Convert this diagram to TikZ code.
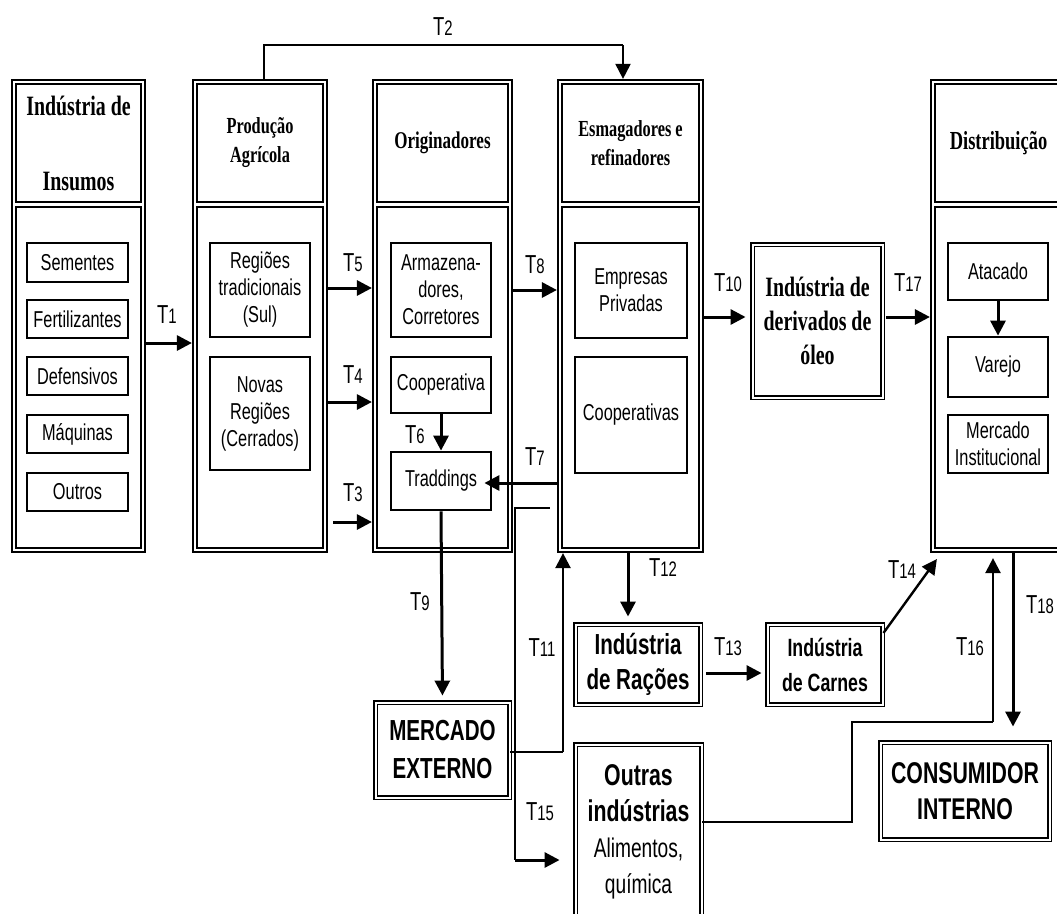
\documentclass[tikz,border=0pt]{standalone}
\usepackage{fontspec}
\setmainfont[FakeStretch=0.71]{Liberation Serif}
\newfontfamily\sansf[FakeStretch=0.71]{Liberation Sans}
\usetikzlibrary{arrows.meta,calc}
\newcommand\mkbox[7]{\node[#6, minimum width={(#4)-(#2)}, minimum height={(#5)-(#3)}, inner sep=0pt] (#1) at ({((#2)+(#4))/2},{((#3)+(#5))/2}) {#7};}
\newcommand\mkcol[5]{%
  \mkbox{#1}{#2}{80}{#3}{552}{colout}{}%
  \mkbox{#1h}{#2+4}{84}{#3-4}{202}{colin,#4}{#5}%
  \mkbox{#1b}{#2+4}{207}{#3-4}{548}{colin}{}}
\newcommand\Tl[1]{\fontsize{26}{26}\selectfont T\fontsize{21}{21}\selectfont #1}
\begin{document}
\begin{tikzpicture}[x=1pt,y=-1pt,
  colout/.style={draw, line width=2.2pt},
  colin/.style={draw, line width=1.8pt, align=center},
  sub/.style={draw, line width=2.8pt, align=center, font=\sansf\fontsize{23}{27}\selectfont},
  dbl/.style={draw, double, double distance=2pt, line width=1.9pt, align=center},
  hd/.style={font=\bfseries\fontsize{23}{29}\selectfont},
  ahead/.style={-{Triangle[length=15pt,width=15pt]}},
  arr/.style={line width=3pt, ahead},
  thinl/.style={line width=1.1pt},
  tlab/.style={font=\sansf, inner sep=0pt}]
\useasboundingbox (0,0) rectangle (1057,913);

% columns
\mkcol{c1}{12}{145}{font=\bfseries\fontsize{28}{75}\selectfont}{Indústria de\\Insumos}
\mkcol{c2}{193}{327}{hd}{Produção\\Agrícola}
\mkcol{c3}{373}{512}{font=\bfseries\fontsize{24}{29}\selectfont}{Originadores}
\mkcol{c4}{558}{703}{hd}{Esmagadores e\\refinadores}
\mkcol{c5}{931}{1066}{font=\bfseries\fontsize{26}{29}\selectfont}{Distribuição}

% sub boxes
\mkbox{s1}{27}{243}{128}{282}{sub}{Sementes}
\mkbox{s2}{27}{300}{128}{338}{sub}{Fertilizantes}
\mkbox{s3}{27}{357}{128}{395}{sub}{Defensivos}
\mkbox{s4}{27}{415}{128}{453}{sub}{Máquinas}
\mkbox{s5}{27}{473}{128}{511}{sub}{Outros}
\mkbox{r1}{210}{243}{310}{337}{sub}{Regiões\\tradicionais\\(Sul)}
\mkbox{r2}{210}{357}{310}{470}{sub}{Novas\\Regiões\\(Cerrados)}
\mkbox{o1}{391}{243}{491}{337}{sub}{Armazena-\\dores,\\Corretores}
\mkbox{o2}{391}{357}{491}{413}{sub}{Cooperativa}
\mkbox{o3}{391}{452}{491}{510}{sub}{Traddings}
\mkbox{e1}{575}{243}{687}{338}{sub}{Empresas\\Privadas}
\mkbox{e2}{575}{357}{687}{473}{sub}{Cooperativas}
\mkbox{d1}{948}{243}{1048}{300}{sub}{Atacado}
\mkbox{d2}{948}{337}{1048}{397}{sub}{Varejo}
\mkbox{d3}{948}{415}{1048}{473}{sub}{Mercado\\Institucional}

% standalone boxes
\mkbox{deriv}{752.5}{244.5}{882.5}{397.5}{dbl,font=\bfseries\fontsize{28}{34}\selectfont}{Indústria de\\derivados de\\óleo}
\mkbox{merc}{375.5}{702.5}{509.5}{797.5}{dbl,font=\sansf\bfseries\fontsize{29}{38}\selectfont}{MERCADO\\EXTERNO}
\mkbox{racoes}{575.5}{624.5}{700.5}{704.5}{dbl,font=\sansf\bfseries\fontsize{29}{35}\selectfont}{Indústria\\de Rações}
\mkbox{carnes}{767.5}{624.5}{882.5}{704.5}{dbl,font=\sansf\bfseries\fontsize{25}{35}\selectfont}{Indústria\\de Carnes}
\mkbox{outras}{575.5}{744.5}{701.5}{920}{dbl,font=\sansf\fontsize{27}{36}\selectfont}{{\bfseries\fontsize{30}{37}\selectfont Outras}\\{\bfseries\fontsize{30}{37}\selectfont indústrias}\\Alimentos,\\química}
\mkbox{cons}{880.5}{742.5}{1049.5}{839.5}{dbl,font=\sansf\bfseries\fontsize{30}{36}\selectfont}{CONSUMIDOR\\INTERNO}

% connectors
\draw[arr] (c1.east |- 0,343) -- (c2.west |- 0,343);
\coordinate (t2a) at (264,45);
\coordinate (t2b) at (623,45);
\draw[thinl] (c2.north -| t2a) -- (t2a) -- (t2b);
\draw[line width=2pt, ahead] (t2b) -- (c4.north -| t2b);
\draw[arr] (c2.east |- 0,288) -- (c3.west |- 0,288);
\draw[arr] (c2.east |- 0,402) -- (c3.west |- 0,402);
\draw[arr, shorten <=5pt] (c2.east |- 0,522) -- (c3.west |- 0,522);
\draw[arr] (c3.east |- 0,290) -- (c4.west |- 0,290);
\draw[arr] (o2.south) -- (o3.north);
\draw[arr, shorten >=-8pt] (c4.west |- 0,483) -- (o3.east |- 0,483);
\draw[arr, shorten >=6pt] (o3.south) -- (merc.north);
\draw[arr, shorten >=6pt] (c4.east |- 0,317) -- (deriv.west |- 0,317);
\draw[arr, shorten <=3pt] (deriv.east |- 0,317) -- (c5.west |- 0,317);
\coordinate (t11) at (563,752);
\draw[thinl] (merc.east |- t11) -- (t11);
\draw[line width=2.4pt, ahead] (t11) -- (c4.south -| t11);
\draw[arr, shorten >=7pt] (c4.south -| 628,0) -- (racoes.north -| 628,0);
\draw[arr, shorten <=5pt, shorten >=5pt] (racoes.east |- 0,673) -- (carnes.west |- 0,673);
\draw[line width=2.4pt, ahead] (carnes.east |- 0,633) -- ($(c5.south west)+(7,6)$);
\coordinate (t15a) at (515,508);
\coordinate (t15b) at (515,860);
\draw[thinl, shorten <=7pt] (c4.west |- t15a) -- (t15a) -- (t15b);
\draw[arr, shorten >=15pt] (t15b) -- (outras.west |- t15b);
\coordinate (t16a) at (852,822);
\coordinate (t16b) at (852,722);
\coordinate (t16c) at (993,722);
\draw[thinl] (outras.east |- t16a) -- (t16a) -- (t16b) -- (t16c);
\draw[line width=2.4pt, ahead, shorten >=5pt] (t16c) -- (c5.south -| t16c);
\draw[arr, shorten >=15pt] (c5.south -| 1013,0) -- (cons.north -| 1013,0);
\draw[arr] (d1.south) -- (d2.north);

% labels
\node[tlab] (l1) at (167,315) {\Tl{1}};
\node[tlab] (l2) at (443,27) {\Tl{2}};
\node[tlab] (l5) at (353,263) {\Tl{5}};
\node[tlab] (l4) at (353,375) {\Tl{4}};
\node[tlab] (l3) at (353,493) {\Tl{3}};
\node[tlab] (l6) at (415,435) {\Tl{6}};
\node[tlab] (l8) at (535,265) {\Tl{8}};
\node[tlab] (l7) at (535,457) {\Tl{7}};
\node[tlab] (l10) at (728,283) {\Tl{10}};
\node[tlab] (l17) at (908,283) {\Tl{17}};
\node[tlab] (l9) at (420,602) {\Tl{9}};
\node[tlab] (l11) at (542,648) {\Tl{11}};
\node[tlab] (l12) at (663,568) {\Tl{12}};
\node[tlab] (l13) at (728,647) {\Tl{13}};
\node[tlab] (l14) at (902,570) {\Tl{14}};
\node[tlab] (l16) at (970,647) {\Tl{16}};
\node[tlab] (l18) at (1040,605) {\Tl{18}};
\node[tlab] (l15) at (540,812) {\Tl{15}};
\end{tikzpicture}
\end{document}
